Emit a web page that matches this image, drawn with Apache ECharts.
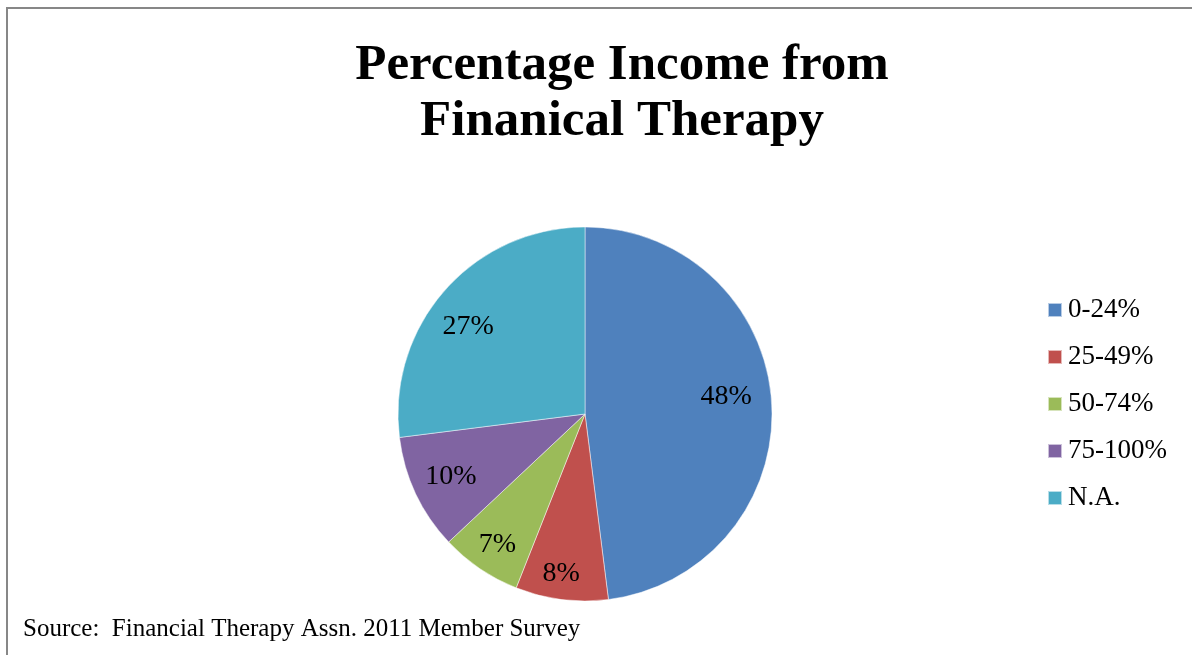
<!DOCTYPE html>
<html>
<head>
<meta charset="utf-8">
<script src="https://cdn.jsdelivr.net/npm/echarts@6/dist/echarts.min.js"></script>
<style>
  html, body { margin: 0; padding: 0; background: #ffffff; }
  #chart { width: 1192px; height: 655px; }
</style>
</head>
<body>
<div id="chart"></div>
<script>
// Income share bands and the percentage of members in each
const categories = ['0-24%', '25-49%', '50-74%', '75-100%', 'N.A.'];
const shares = [48, 8, 7, 10, 27];
const sliceColors = ['#4F81BD', '#C0504D', '#9BBB59', '#8064A2', '#4BACC6'];

const titleLines = ['Percentage Income from', 'Finanical Therapy'];
const sourceNote = 'Source:  Financial Therapy Assn. 2011 Member Survey';

const serif = '"Liberation Serif", "Times New Roman", serif';

// small nudges for the percentage labels, per slice
const labelNudges = [[-9, -8], [-5, 10], [-3, 6], [2, -1], [-4, 12]];

const chart = echarts.init(document.getElementById('chart'), null, { renderer: 'canvas' });

const center = [585, 414];
const outerR = 187;

chart.setOption({
  backgroundColor: '#ffffff',
  animation: false,
  legend: {
    orient: 'vertical',
    left: 1047,
    top: 296,
    padding: 0,
    itemWidth: 14,
    itemHeight: 14,
    itemGap: 19,
    icon: 'rect',
    textStyle: { fontFamily: serif, fontSize: 27, color: '#000', lineHeight: 28, padding: [0, 0, 0, 1] },
    data: categories
  },
  graphic: [
    {
      type: 'rect',
      shape: { x: 7, y: 8, width: 1300, height: 800 },
      style: { fill: 'none', stroke: '#878787', lineWidth: 2 },
      silent: true
    },
    {
      type: 'text',
      x: 622,
      y: 38,
      style: {
        text: titleLines.join('\n'),
        textAlign: 'center',
        fontFamily: serif,
        fontWeight: 'bold',
        fontSize: 51,
        lineHeight: 56,
        fill: '#000'
      }
    },
    {
      type: 'text',
      x: 23,
      y: 617,
      style: {
        text: sourceNote,
        fontFamily: serif,
        fontSize: 25,
        fill: '#000'
      }
    }
  ],
  series: [
    {
      type: 'pie',
      center: center,
      radius: [0, outerR],
      startAngle: 90,
      clockwise: true,
      data: categories.map((name, i) => ({
        name: name,
        value: shares[i],
        itemStyle: { color: sliceColors[i] }
      })),
      label: { show: false },
      labelLine: { show: false },
      itemStyle: { borderColor: 'rgba(255,255,255,0.6)', borderWidth: 0.8 },
      silent: true
    },
    {
      // transparent ring carrying the percentage labels
      type: 'pie',
      center: center,
      radius: [108, outerR],
      startAngle: 90,
      clockwise: true,
      data: categories.map((name, i) => ({
        name: name,
        value: shares[i],
        label: { offset: labelNudges[i] }
      })),
      itemStyle: { color: 'rgba(0,0,0,0)' },
      label: {
        show: true,
        position: 'inside',
        formatter: p => p.value + '%',
        fontFamily: serif,
        fontSize: 28,
        color: '#000'
      },
      labelLine: { show: false },
      silent: true,
      legendHoverLink: false
    }
  ]
});
</script>
</body>
</html>
